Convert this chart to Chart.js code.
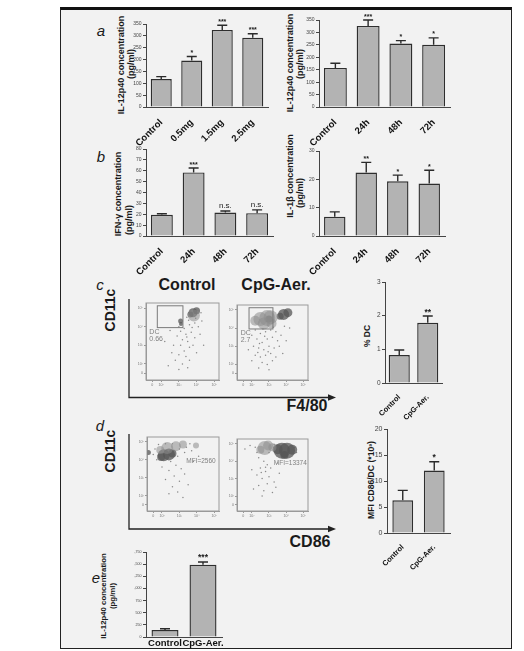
<!DOCTYPE html>
<html>
<head>
<meta charset="utf-8">
<script src="https://cdn.jsdelivr.net/npm/chart.js@4.4.1/dist/chart.umd.min.js"></script>
<style>
  html, body { margin: 0; padding: 0; }
  body { width: 524px; height: 651px; position: relative; overflow: hidden; background: #fff;
         font-family: "Liberation Sans", Arial, sans-serif; }
  #frame { position: absolute; left: 60px; top: 7px; width: 452px; height: 642px; box-sizing: border-box;
           background: #f2f2f2; border: 1px solid #222; border-top: 3px solid #111; }
  .t { position: absolute; white-space: nowrap; color: #1a1a1a; font-weight: bold; line-height: 1;
       transform: translate(-50%, -50%); }
  .v { transform: translate(-50%, -50%) rotate(-90deg); }
  .p { font-weight: normal; font-style: italic; font-size: 15px; }
  canvas { position: absolute; }
</style>
</head>
<body>
<div id="frame"></div>

<!-- panel letters -->
<div class="t p" style="left:101px;top:30px">a</div>
<div class="t p" style="left:101px;top:156px">b</div>
<div class="t p" style="left:100px;top:284px">c</div>
<div class="t p" style="left:100px;top:425px">d</div>
<div class="t p" style="left:96px;top:577px">e</div>

<!-- y-axis titles -->
<div class="t v" style="left:121px;top:65px;font-size:9px">IL-12p40 concentration</div>
<div class="t v" style="left:131px;top:64px;font-size:9px">(pg/ml)</div>
<div class="t v" style="left:290px;top:63px;font-size:9px">IL-12p40 concentration</div>
<div class="t v" style="left:300px;top:64px;font-size:9px">(pg/ml)</div>
<div class="t v" style="left:118px;top:194px;font-size:9px">IFN-γ concentration</div>
<div class="t v" style="left:129px;top:220px;font-size:9px">(pg/ml)</div>
<div class="t v" style="left:290px;top:176px;font-size:9px">IL-1β concentration</div>
<div class="t v" style="left:300px;top:193px;font-size:9px">(pg/ml)</div>
<div class="t v" style="left:367px;top:336px;font-size:8.5px">% DC</div>
<div class="t v" style="left:371px;top:480px;font-size:8.6px">MFI CD86/DC (*10³)</div>
<div class="t v" style="left:104px;top:596px;font-size:7.8px">IL-12p40 concentration</div>
<div class="t v" style="left:113px;top:596px;font-size:7.8px">(pg/ml)</div>

<!-- flow cytometry headers and axis names -->
<div class="t" style="left:187px;top:285px;font-size:16px">Control</div>
<div class="t" style="left:276px;top:285px;font-size:16px">CpG-Aer.</div>
<div class="t v" style="left:110px;top:310px;font-size:14px">CD11c</div>
<div class="t v" style="left:110px;top:451px;font-size:14px">CD11c</div>
<div class="t" style="left:307px;top:406px;font-size:16px">F4/80</div>
<div class="t" style="left:310px;top:542px;font-size:16px">CD86</div>

<svg width="524" height="651" style="position:absolute;left:0;top:0">
  <g stroke="#222" stroke-width="1.3" fill="none">
    <path d="M129 299 V397.5 H330"/>
    <path d="M129 434 V529 H330"/>
  </g>
  <g fill="#222">
    <path d="M336 397.5 l-8 -3.2 v6.4z"/>
    <path d="M336 529 l-8 -3.2 v6.4z"/>
  </g>
</svg>

<script>
// ---- a: IL-12p40 by dose ----
const doseCats = ['Control', '0.5mg', '1.5mg', '2.5mg'];
const doseIL12 = [118, 196, 325, 292];
const doseIL12Hi = [128, 213, 345, 309];
const doseSig = ['', '*', '***', '***'];

// ---- a: IL-12p40 by time ----
const timeCats = ['Control', '24h', '48h', '72h'];
const timeIL12 = [157, 326, 255, 250];
const timeIL12Hi = [176, 350, 267, 278];
const timeIL12Sig = ['', '***', '*', '*'];

// ---- b: IFN-γ and IL-1β by time ----
const timeIFN = [19.5, 58.5, 21.6, 21];
const timeIFNHi = [20.5, 62.5, 23, 24];
const timeIFNSig = ['', '***', 'n.s.', 'n.s.'];
const timeIL1b = [6.8, 22.4, 19.3, 18.5];
const timeIL1bHi = [8.5, 26, 21.5, 23.2];
const timeIL1bSig = ['', '**', '*', '*'];

// ---- c, d, e: Control vs CpG-Aer. ----
const groupCats = ['Control', 'CpG-Aer.'];
const dcPercent = [0.83, 1.79];
const dcPercentHi = [0.98, 1.99];
const dcSig = ['', '**'];
const cd86Mfi = [6.3, 12.0];
const cd86MfiHi = [8.2, 13.7];
const cd86Sig = ['', '*'];
const restimIL12 = [144, 1489];
const restimIL12Hi = [171, 1545];
const restimSig = ['', '***'];

// ---- flow plots (log decades) ----
const flowTickVals = [1.5, 2, 3, 4, 5];
const flowTickText = ['0', '10²', '10³', '10⁴', '10⁵'];

const ctrlF480Dots = [[3.0,4.0],[3.3,3.9],[3.6,4.1],[3.9,4.2],[4.1,4.0],[3.4,3.6],[3.7,3.7],[3.2,3.3],[3.5,3.2],[3.9,3.4],
  [2.9,3.5],[3.1,3.0],[3.6,2.9],[3.3,2.7],[2.7,3.0],[3.8,3.0],[4.2,3.6],[2.5,3.8],[3.0,2.5],[3.4,2.4],[2.8,2.2],
  [3.6,2.2],[3.2,2.0],[2.6,2.6],[4.0,2.6],[2.4,1.9],[3.0,1.7],[3.5,1.8],[4.3,4.3],[3.55,4.35],[3.75,3.95],[2.2,3.2],
  [4.4,3.0],[3.1,3.75],[3.45,3.45],[3.95,4.45],[4.25,4.75],[3.45,4.5]];
const ctrlF480Light = [[3.85,4.6,6]];
const ctrlF480Dark = [[3.8,4.75,4.5],[4.0,4.85,3.5],[3.65,4.65,3],[3.1,4.3,2.5],[3.12,4.15,2]];
const ctrlDcNote = ['DC', '0.66'];

const cpgF480Dots = [[2.2,3.9],[2.5,3.7],[2.8,3.8],[3.1,3.9],[3.4,3.8],[2.3,3.4],[2.6,3.2],[2.9,3.4],[3.2,3.5],[3.5,3.3],
  [2.1,3.0],[2.4,2.9],[2.7,2.8],[3.0,3.0],[3.3,2.9],[3.6,3.0],[2.2,2.5],[2.5,2.4],[2.8,2.5],[3.1,2.6],[3.4,2.4],
  [2.0,2.2],[2.6,2.1],[2.9,2.0],[3.2,2.2],[2.4,1.8],[3.0,1.7],[3.7,3.6],[3.9,4.1],[4.2,4.0],[2.75,3.55],[2.45,3.15],
  [2.95,2.7],[3.8,2.6],[2.0,3.6],[1.8,2.8],[4.0,3.3],[2.65,3.95],[3.25,4.05],[2.35,2.65]];
const cpgF480Light = [[2.9,4.55,8],[3.1,4.6,7],[2.5,4.5,7],[2.2,4.4,5],[2.7,4.25,6],[3.15,4.25,5]];
const cpgF480Dark = [[3.85,4.75,5.5],[4.1,4.85,4.5],[3.65,4.65,3.5],[3.0,4.5,3.5]];
const cpgDcNote = ['DC', '2.7'];

const ctrlCd86Dots = [[1.6,4.6],[1.8,4.85],[2.6,4.9],[3.0,4.6],[3.4,4.7],[3.6,4.9],[2.2,4.9],[1.5,4.3],[2.9,4.2],[3.3,4.4],
  [3.7,4.5],[2.5,3.9],[2.8,3.7],[3.1,3.5],[2.4,3.4],[2.7,3.1],[3.3,3.2],[2.2,2.9],[3.0,2.8],[2.6,2.5],[3.5,2.6],
  [2.0,3.6],[3.8,3.9],[2.9,2.2],[2.4,2.1],[3.2,1.9],[4.1,4.2],[1.7,4.0]];
const ctrlCd86Light = [[2.3,4.65,6],[2.8,4.75,5],[3.2,4.85,4],[1.9,4.55,4],[3.95,4.8,3]];
const ctrlCd86Dark = [[2.1,4.25,6],[2.4,4.3,6],[1.95,4.15,4],[2.6,4.35,4],[1.22,4.4,2.5]];
const ctrlMfiNote = 'MFI=2560';

const cpgCd86Dots = [[1.6,4.7],[1.9,4.9],[2.2,4.8],[2.3,4.5],[3.3,4.95],[3.0,4.5],[4.5,4.8],[4.6,4.5],[2.4,4.2],[2.7,4.0],
  [2.9,3.8],[2.5,3.6],[2.8,3.4],[3.1,3.6],[2.3,3.2],[2.6,3.0],[3.0,3.1],[2.9,2.7],[2.4,2.6],[3.3,2.8],[2.7,2.3],
  [3.2,2.2],[2.1,2.4],[3.6,3.3],[3.5,3.9],[2.0,3.5],[2.6,2.0],[3.4,2.5],[2.8,3.65],[2.55,3.35]];
const cpgCd86Light = [[2.75,4.75,7],[2.95,4.9,5],[2.5,4.65,4],[3.2,4.8,4]];
const cpgCd86Dark = [[3.75,4.6,8],[4.05,4.6,8],[4.35,4.65,5],[3.5,4.68,5],[3.9,4.35,4]];
const cpgMfiNote = 'MFI=13374';

const FONT = '"Liberation Sans", Arial, sans-serif';
Chart.defaults.font.family = FONT;
Chart.defaults.animation = false;

function mount(left, top, w, h) {
  const c = document.createElement('canvas');
  c.width = w; c.height = h;
  c.style.left = left + 'px'; c.style.top = top + 'px';
  c.style.width = w + 'px'; c.style.height = h + 'px';
  document.body.appendChild(c);
  return c;
}

// upper error bars with caps, plus significance marks
const errorBars = {
  id: 'errs',
  afterDatasetsDraw(chart, args, o) {
    const ctx = chart.ctx, ys = chart.scales.y;
    const meta = chart.getDatasetMeta(0), vals = chart.data.datasets[0].data;
    ctx.save();
    ctx.strokeStyle = '#2a2a2a';
    ctx.lineWidth = 1.4;
    ctx.fillStyle = '#1a1a1a';
    ctx.textAlign = 'center';
    ctx.textBaseline = 'alphabetic';
    meta.data.forEach((bar, i) => {
      const x = bar.x;
      const y0 = ys.getPixelForValue(vals[i]);
      const y1 = ys.getPixelForValue(o.hi[i]);
      ctx.beginPath();
      ctx.moveTo(x, y0); ctx.lineTo(x, y1);
      ctx.moveTo(x - o.cap / 2, y1); ctx.lineTo(x + o.cap / 2, y1);
      ctx.stroke();
      const m = o.marks[i];
      if (m) {
        if (m === 'n.s.') {
          ctx.font = (o.starSize + 1) + 'px ' + FONT;
          ctx.fillText(m, x, y1 - 2.5);
        } else {
          ctx.font = 'bold ' + o.starSize + 'px ' + FONT;
          ctx.fillText(m, x, y1 - 1.5);
        }
      }
    });
    ctx.restore();
  }
};

function barPanel(c) {
  const yw = c.yw, xh = c.xh, pt = 16, pr = 6;
  const w = yw + c.R - c.L + pr, h = pt + c.B - c.T + xh;
  const cv = mount(c.L - yw, c.T - pt, w, h);
  new Chart(cv, {
    type: 'bar',
    data: {
      labels: c.labels,
      datasets: [{
        data: c.values,
        backgroundColor: '#b3b3b3',
        borderColor: '#2e2e2e',
        borderWidth: 1.4,
        barPercentage: c.bar,
        categoryPercentage: 1
      }]
    },
    options: {
      responsive: false,
      devicePixelRatio: 1,
      animation: false,
      events: [],
      layout: { padding: { top: pt, right: pr, left: 0, bottom: 0 } },
      plugins: {
        legend: { display: false },
        tooltip: { enabled: false },
        errs: { hi: c.hi, marks: c.marks, cap: c.cap, starSize: c.star }
      },
      scales: {
        x: {
          grid: { display: false, drawTicks: c.rot !== 0 },
          border: { display: true, color: '#444', width: 1 },
          ticks: {
            font: { size: c.xfs, weight: 'bold' }, color: '#111',
            minRotation: c.rot, maxRotation: c.rot, autoSkip: false, padding: c.xpad
          },
          afterFit(s) { s.height = xh; s.paddingLeft = 0; s.paddingRight = 0; }
        },
        y: {
          min: 0, max: c.max,
          ticks: { stepSize: c.step, font: { size: c.yfs }, color: '#444', padding: 1.5 },
          grid: { drawOnChartArea: false, drawTicks: true, tickLength: 3, color: '#444' },
          border: { display: true, color: '#444', width: 1 },
          afterFit(s) { s.width = yw; }
        }
      }
    },
    plugins: [errorBars]
  });
}

// frame, gate and text labels on the dot plots
const flowDeco = {
  id: 'flowDeco',
  afterDatasetsDraw(chart, args, o) {
    const ctx = chart.ctx, a = chart.chartArea, xs = chart.scales.x, ys = chart.scales.y;
    ctx.save();
    ctx.strokeStyle = '#9a9a9a';
    ctx.lineWidth = 1;
    ctx.strokeRect(a.left, a.top, a.right - a.left, a.bottom - a.top);
    if (o.gate) {
      const [x0, x1, y0, y1] = o.gate;
      const px0 = xs.getPixelForValue(x0), px1 = xs.getPixelForValue(x1);
      const py0 = ys.getPixelForValue(y0), py1 = ys.getPixelForValue(y1);
      ctx.strokeStyle = '#7a7a7a';
      ctx.strokeRect(px0, py1, px1 - px0, py0 - py1);
    }
    ctx.fillStyle = '#808080';
    ctx.font = o.noteSize + 'px ' + FONT;
    ctx.textAlign = 'left';
    ctx.textBaseline = 'middle';
    o.notes.forEach(n => ctx.fillText(n.t, xs.getPixelForValue(n.x), ys.getPixelForValue(n.y)));
    ctx.restore();
  }
};

function flowPanel(c) {
  const yw = 8, xh = 8, pt = 2, pr = 2;
  const w = yw + c.R - c.L + pr, h = pt + c.B - c.T + xh;
  const cv = mount(c.L - yw, c.T - pt, w, h);
  const pts = arr => arr.map(p => ({ x: p[0], y: p[1] }));
  const blobs = arr => arr.map(p => ({ x: p[0], y: p[1], r: p[2] }));
  const axis = () => ({
    type: 'linear', min: 1.14, max: 5.27,
    afterBuildTicks(s) { s.ticks = flowTickVals.map(v => ({ value: v })); },
    ticks: {
      font: { size: 3.6 }, color: '#777', padding: 1, autoSkip: false, maxRotation: 0, minRotation: 0,
      callback(v) { const i = flowTickVals.indexOf(v); return i < 0 ? '' : flowTickText[i]; }
    },
    grid: { drawOnChartArea: false, drawTicks: true, tickLength: 2, color: '#9a9a9a' },
    border: { display: true, color: '#9a9a9a', width: 1 }
  });
  const xAxis = axis(), yAxis = axis();
  xAxis.afterFit = s => { s.height = xh; s.paddingLeft = 0; s.paddingRight = 0; };
  yAxis.afterFit = s => { s.width = yw; s.paddingTop = 0; s.paddingBottom = 0; };
  new Chart(cv, {
    type: 'scatter',
    data: {
      datasets: [
        { type: 'bubble', data: blobs(c.light), backgroundColor: 'rgba(140,140,140,0.55)', borderWidth: 0 },
        { type: 'bubble', data: blobs(c.dark), backgroundColor: 'rgba(85,85,85,0.75)', borderWidth: 0 },
        { data: pts(c.dots), pointRadius: 0.75, backgroundColor: '#8a8a8a', borderWidth: 0 }
      ]
    },
    options: {
      responsive: false,
      devicePixelRatio: 1,
      animation: false,
      events: [],
      layout: { padding: { top: pt, right: pr, left: 0, bottom: 0 } },
      plugins: {
        legend: { display: false },
        tooltip: { enabled: false },
        flowDeco: { gate: c.gate, notes: c.notes, noteSize: c.noteSize }
      },
      scales: { x: xAxis, y: yAxis }
    },
    plugins: [flowDeco]
  });
}

// a
barPanel({ L: 146, R: 268, T: 24, B: 107, yw: 20, xh: 46, labels: doseCats, values: doseIL12, hi: doseIL12Hi,
  marks: doseSig, max: 350, step: 50, bar: 0.69, cap: 10, star: 7, xfs: 9.5, yfs: 5, rot: 45, xpad: 2 });
barPanel({ L: 319, R: 450, T: 20, B: 107, yw: 20, xh: 46, labels: timeCats, values: timeIL12, hi: timeIL12Hi,
  marks: timeIL12Sig, max: 350, step: 50, bar: 0.70, cap: 10, star: 7, xfs: 9.5, yfs: 5, rot: 45, xpad: 2 });
// b
barPanel({ L: 146, R: 273, T: 149, B: 236, yw: 20, xh: 46, labels: timeCats, values: timeIFN, hi: timeIFNHi,
  marks: timeIFNSig, max: 80, step: 10, bar: 0.69, cap: 10, star: 7, xfs: 9.5, yfs: 5, rot: 45, xpad: 2 });
barPanel({ L: 319, R: 445, T: 151, B: 236, yw: 20, xh: 46, labels: timeCats, values: timeIL1b, hi: timeIL1bHi,
  marks: timeIL1bSig, max: 30, step: 10, bar: 0.68, cap: 10, star: 7, xfs: 9.5, yfs: 5, rot: 45, xpad: 2 });
// c
flowPanel({ L: 146, R: 223, T: 299, B: 380, dots: ctrlF480Dots, light: ctrlF480Light, dark: ctrlF480Dark,
  gate: [1.78, 3.23, 3.95, 5.12], noteSize: 7,
  notes: [{ x: 1.33, y: 3.7, t: ctrlDcNote[0] }, { x: 1.33, y: 3.33, t: ctrlDcNote[1] }] });
flowPanel({ L: 237, R: 314, T: 299, B: 380, dots: cpgF480Dots, light: cpgF480Light, dark: cpgF480Dark,
  gate: [1.84, 3.23, 3.95, 5.12], noteSize: 7,
  notes: [{ x: 1.36, y: 3.7, t: cpgDcNote[0] }, { x: 1.36, y: 3.33, t: cpgDcNote[1] }] });
barPanel({ L: 385, R: 442, T: 282, B: 383, yw: 12, xh: 40, labels: groupCats, values: dcPercent, hi: dcPercentHi,
  marks: dcSig, max: 3, step: 1, bar: 0.74, cap: 10, star: 8.5, xfs: 7.5, yfs: 6.5, rot: 45, xpad: 2 });
// d
flowPanel({ L: 147, R: 223, T: 433, B: 511, dots: ctrlCd86Dots, light: ctrlCd86Light, dark: ctrlCd86Dark,
  gate: null, noteSize: 6.5, notes: [{ x: 3.39, y: 3.9, t: ctrlMfiNote }] });
flowPanel({ L: 237, R: 314, T: 433, B: 511, dots: cpgCd86Dots, light: cpgCd86Light, dark: cpgCd86Dark,
  gate: null, noteSize: 6.5, notes: [{ x: 3.28, y: 3.9, t: cpgMfiNote }] });
barPanel({ L: 387, R: 450, T: 429, B: 533, yw: 14, xh: 40, labels: groupCats, values: cd86Mfi, hi: cd86MfiHi,
  marks: cd86Sig, max: 20, step: 5, bar: 0.66, cap: 10, star: 8.5, xfs: 7.5, yfs: 7, rot: 45, xpad: 2 });
// e
barPanel({ L: 146, R: 222, T: 552, B: 637, yw: 12, xh: 14, labels: groupCats, values: restimIL12, hi: restimIL12Hi,
  marks: restimSig, max: 1750, step: 250, bar: 0.71, cap: 10, star: 8.5, xfs: 9.5, yfs: 3.6, rot: 0, xpad: 1 });
</script>
</body>
</html>
